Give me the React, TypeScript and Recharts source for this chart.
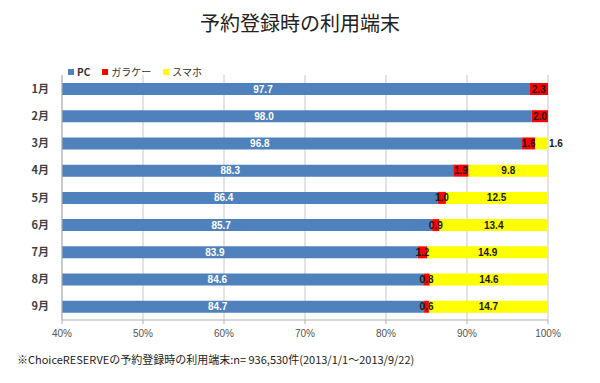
import { BarChart, Bar, XAxis, YAxis, CartesianGrid, Legend, LabelList } from "recharts";

const months = ["1月", "2月", "3月", "4月", "5月", "6月", "7月", "8月", "9月"];
const pcShare = [97.7, 98.0, 96.8, 88.3, 86.4, 85.7, 83.9, 84.6, 84.7];
const garakeShare = [2.3, 2.0, 1.6, 1.9, 1.0, 0.9, 1.2, 0.8, 0.6];
const smartphoneShare = [0, 0, 1.6, 9.8, 12.5, 13.4, 14.9, 14.6, 14.7];
const xTicks = [40, 50, 60, 70, 80, 90, 100];

const data = months.map((month, i) => ({
  month,
  pc: pcShare[i],
  garake: garakeShare[i],
  smartphone: smartphoneShare[i],
}));

const FONT = "'Noto Sans CJK JP', 'Noto Sans', sans-serif";
const PLOT_LEFT = 62;

// Excel puts the PC label left of the clipped bar's centre
const PcLabel = (props: any) => {
  const { x, y, width, height, value } = props;
  const right = x + width;
  const cx = PLOT_LEFT + (right - PLOT_LEFT) * 0.43;
  return (
    <text x={cx} y={y + height / 2} dy={3.5} textAnchor="middle" fill="#fff" fontSize={10} fontWeight="bold" fontFamily="Liberation Sans, sans-serif">
      {Number(value).toFixed(1)}
    </text>
  );
};

const CenterLabel = (props: any) => {
  const { x, y, width, height, value } = props;
  if (!value) return null;
  const outside = width < 20;
  return (
    <text
      x={outside ? x + width + 1 : x + width / 2}
      y={y + height / 2}
      dy={3.5}
      textAnchor={outside ? "start" : "middle"}
      fill="#1a1a1a"
      fontSize={10}
      fontWeight="bold"
      fontFamily="Liberation Sans, sans-serif"
    >
      {Number(value).toFixed(1)}
    </text>
  );
};

const GarakeLabel = (props: any) => {
  const { x, y, width, height, value } = props;
  return (
    <text x={x + width / 2} y={y + height / 2} dy={3.5} textAnchor="middle" fill="#1a1a1a" fontSize={10} fontWeight="bold" fontFamily="Liberation Sans, sans-serif">
      {Number(value).toFixed(1)}
    </text>
  );
};

const MonthTick = (props: any) => {
  const { y, payload } = props;
  return (
    <text x={PLOT_LEFT - 13} y={y} dy={4} textAnchor="end" fontSize={11} fill="#404040" fontWeight="bold" fontFamily={FONT}>
      {payload.value}
    </text>
  );
};

const LegendContent = (props: any) => {
  const { payload } = props;
  return (
    <div style={{ display: "flex", gap: 12, fontSize: 10, color: "#333", fontFamily: FONT }}>
      {(payload || []).map((p: any) => (
        <div key={p.value} style={{ display: "flex", alignItems: "center", gap: 3 }}>
          <span style={{ width: 6, height: 6, background: p.color, display: "inline-block" }} />
          <span style={{ fontWeight: p.value === "PC" ? "bold" : "normal" }}>{p.value}</span>
        </div>
      ))}
    </div>
  );
};

export default function App() {
  return (
    <div style={{ position: "absolute", left: 0, top: 0, width: 600, height: 383, background: "#fff", fontFamily: FONT }}>
      <div style={{ position: "absolute", top: 8, left: 0, width: 600, textAlign: "center", fontSize: 20, color: "#222" }}>
        予約登録時の利用端末
      </div>

      <BarChart
        width={600}
        height={383}
        data={data}
        layout="vertical"
        margin={{ top: 75, right: 52, bottom: 43, left: 0 }}
        barSize={12}
      >
        <CartesianGrid horizontal={false} stroke="#c8c8c8" />

        <XAxis
          type="number"
          domain={[40, 100]}
          ticks={xTicks}
          allowDataOverflow
          height={20}
          tickFormatter={(v) => `${v}%`}
          tick={{ fontSize: 10, fill: "#555", fontFamily: "Liberation Sans, sans-serif" }}
          stroke="#b0b0b0"
          tickSize={4}
          tickMargin={6}
        />

        <YAxis
          type="category"
          dataKey="month"
          width={62}
          tick={<MonthTick />}
          tickLine={false}
          stroke="#b0b0b0"
        />

        <Legend
          verticalAlign="middle"
          align="center"
          layout="horizontal"
          wrapperStyle={{ top: 64, left: 68, width: "auto" }}
          content={<LegendContent />}
        />

        <Bar dataKey="pc" name="PC" stackId="a" fill="#4f81bd" isAnimationActive={false}>
          <LabelList dataKey="pc" content={<PcLabel />} />
        </Bar>
        <Bar dataKey="garake" name="ガラケー" stackId="a" fill="#ff0000" isAnimationActive={false}>
          <LabelList dataKey="garake" content={<GarakeLabel />} />
        </Bar>
        <Bar dataKey="smartphone" name="スマホ" stackId="a" fill="#ffff00" isAnimationActive={false}>
          <LabelList dataKey="smartphone" content={<CenterLabel />} />
        </Bar>
      </BarChart>

      <div style={{ position: "absolute", top: 351, left: 17, fontSize: 11, color: "#222", whiteSpace: "nowrap" }}>
        ※ChoiceRESERVEの予約登録時の利用端末:n= 936,530件(2013/1/1〜2013/9/22)
      </div>
    </div>
  );
}
